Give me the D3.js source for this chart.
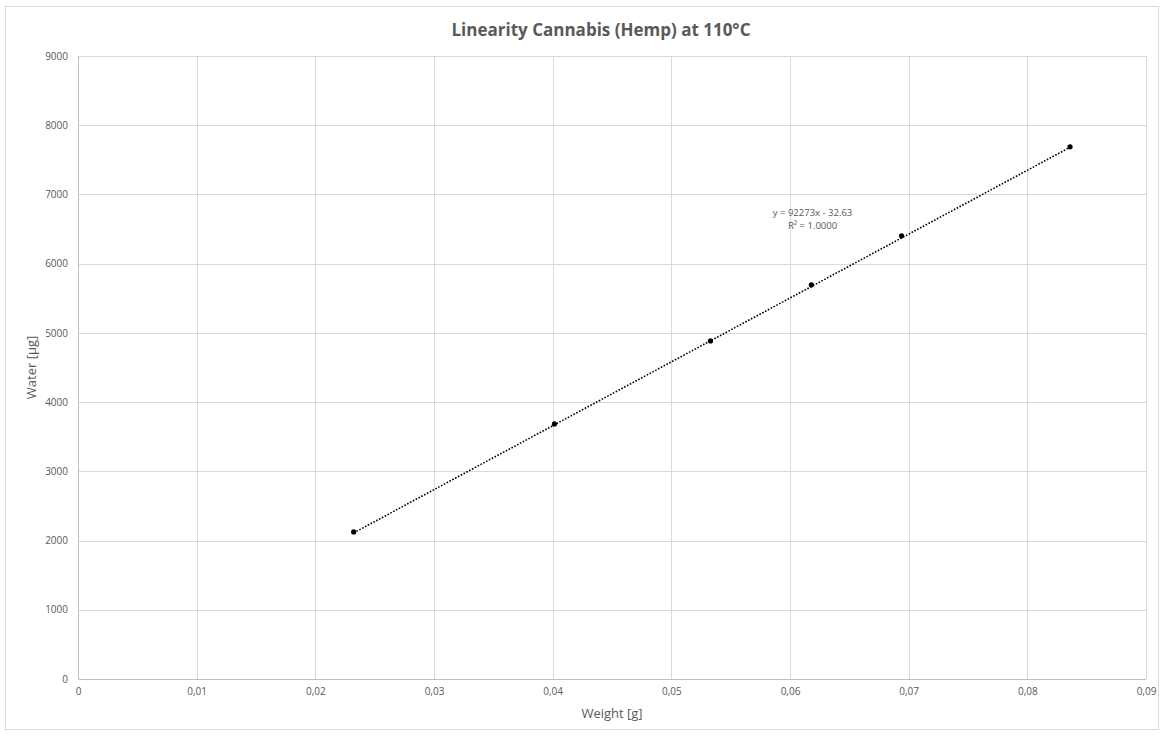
<!DOCTYPE html>
<html>
<head>
<meta charset="utf-8">
<script src="https://cdn.jsdelivr.net/npm/d3@7"></script>
<style>
  body { margin: 0; background: #fff; }
  text { font-family: "Open Sans", "Noto Sans", sans-serif; fill: #595959; }
</style>
</head>
<body>
<div id="chart"></div>
<script>
// sample weights [g] and measured water [µg]
const weights = [0.02323, 0.04015, 0.05330, 0.06180, 0.06940, 0.08360]
const water = [2124, 3685, 4884, 5694, 6402, 7688]

const xTicks = [0, 0.01, 0.02, 0.03, 0.04, 0.05, 0.06, 0.07, 0.08, 0.09]
const yTicks = [0, 1000, 2000, 3000, 4000, 5000, 6000, 7000, 8000, 9000]

const slope = 92273, intercept = -32.63
const eqLines = ["y = 92273x - 32.63", "R² = 1.0000"]

const W = 1164, H = 736
const margin = { left: 78, right: 18, top: 56, bottom: 57 }
const width = W - margin.left - margin.right,
    height = H - margin.top - margin.bottom

const root = d3.select("#chart").append("svg")
    .attr("width", W)
    .attr("height", H)

root.append("rect")
    .attr("x", 5.5).attr("y", 6.5)
    .attr("width", W - 11).attr("height", H - 13)
    .attr("fill", "#fff")
    .attr("stroke", "#d9d9d9")

root.append("text")
    .attr("x", 601).attr("y", 36)
    .attr("text-anchor", "middle")
    .style("font-size", "17px")
    .style("font-weight", "bold")
    .text("Linearity Cannabis (Hemp) at 110°C")

const svg = root.append("g")
    .attr("transform", "translate(" + margin.left + "," + margin.top + ")")

const x = d3.scaleLinear().domain([0, 0.09]).range([0, width])
const y = d3.scaleLinear().domain([0, 9000]).range([height, 0])

// grid
svg.selectAll(".vgrid").data(xTicks.slice(1))
    .enter().append("line")
    .attr("x1", d => Math.round(x(d)) + 0.5).attr("x2", d => Math.round(x(d)) + 0.5)
    .attr("y1", 0).attr("y2", height)
    .attr("stroke", "#d9d9d9")

svg.selectAll(".hgrid").data(yTicks.slice(1))
    .enter().append("line")
    .attr("x1", 0).attr("x2", width)
    .attr("y1", d => Math.round(y(d)) + 0.5).attr("y2", d => Math.round(y(d)) + 0.5)
    .attr("stroke", "#d9d9d9")

// axes
const fmt = d => d === 0 ? "0" : d3.format(".2f")(d).replace(".", ",")

const xAxis = svg.append("g")
    .attr("transform", "translate(0," + height + ")")
    .call(d3.axisBottom(x).tickValues(xTicks).tickFormat(fmt).tickSize(0).tickPadding(9))
xAxis.select(".domain").attr("stroke", "#bfbfbf").attr("d", "M0.5,0.5H" + width)
xAxis.selectAll("text").style("font-size", "10px").attr("fill", "#595959")

const yAxis = svg.append("g")
    .call(d3.axisLeft(y).tickValues(yTicks).tickFormat(d3.format("d")).tickSize(0).tickPadding(10))
yAxis.select(".domain").attr("stroke", "#bfbfbf").attr("d", "M0.5,0V" + height)
yAxis.selectAll("text").style("font-size", "10px").attr("fill", "#595959")

// axis titles
root.append("text")
    .attr("x", margin.left + width / 2).attr("y", 718)
    .attr("text-anchor", "middle")
    .style("font-size", "13px")
    .text("Weight [g]")

root.append("text")
    .attr("transform", "translate(36," + (margin.top + height / 2) + ") rotate(-90)")
    .attr("text-anchor", "middle")
    .style("font-size", "13px")
    .text("Water [µg]")

// trendline over data range
const x0 = d3.min(weights), x1 = d3.max(weights)
svg.append("line")
    .attr("x1", x(x0)).attr("y1", y(slope * x0 + intercept))
    .attr("x2", x(x1)).attr("y2", y(slope * x1 + intercept))
    .attr("stroke", "#000")
    .attr("stroke-width", 1.6)
    .attr("stroke-dasharray", "1.6,1.6")

// points
svg.selectAll("circle")
    .data(weights.map((w, i) => [w, water[i]]))
    .enter().append("circle")
    .attr("cx", d => x(d[0]))
    .attr("cy", d => y(d[1]))
    .attr("r", 2.6)
    .attr("fill", "#000")

// equation label
const eq = svg.append("text")
    .attr("text-anchor", "middle")
    .style("font-size", "9.5px")
eq.selectAll("tspan").data(eqLines).enter().append("tspan")
    .attr("x", x(0.0619))
    .attr("y", (d, i) => y(6690) + i * 13)
    .text(d => d)
</script>
</body>
</html>
